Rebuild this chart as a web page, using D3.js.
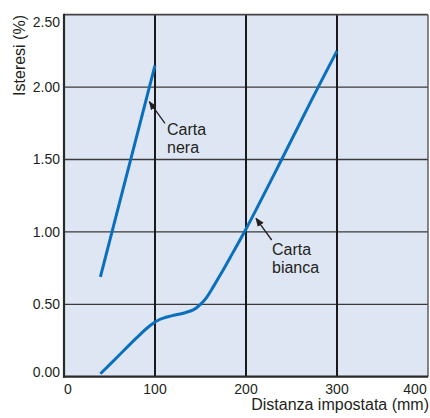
<!DOCTYPE html>
<html><head><meta charset="utf-8">
<script src="https://cdn.jsdelivr.net/npm/d3@7"></script>
<style>body{margin:0;background:#fff}svg{display:block}text{font-family:"Liberation Sans",Arial,sans-serif;fill:#231f20}</style>
</head><body>
<svg id="c" width="430" height="418"></svg>
<script>
const xTicks = [0, 100, 200, 300, 400];
const yTicks = [0, 0.5, 1.0, 1.5, 2.0, 2.5];
const yTickLabels = ["0.00", "0.50", "1.00", "1.50", "2.00", "2.50"];
const nera = [[40, 0.69], [100, 2.15]];
const bianca = [[40, 0.02], [60, 0.145], [80, 0.27], [95, 0.355], [105, 0.395], [118, 0.42], [132, 0.44], [143, 0.465], [150, 0.50], [157, 0.55], [163, 0.61], [172, 0.705], [185, 0.85], [200, 1.02], [240, 1.51], [272, 1.91], [300, 2.25]];
const labels = [
  {lines: ["Carta", "nera"]},
  {lines: ["Carta", "bianca"]}
];
const xTitle = "Distanza impostata (mm)";
const yTitle = "Isteresi (%)";

const L = 64, R = 428, T = 14.7, B = 376.7;
const x = d3.scaleLinear().domain([0, 400]).range([L, R]);
const y = d3.scaleLinear().domain([0, 2.5]).range([B, T]);
const svg = d3.select("#c");

svg.append("defs").append("marker").attr("id", "ah").attr("viewBox", "0 0 10 10")
  .attr("refX", 9).attr("refY", 5).attr("markerWidth", 9).attr("markerHeight", 9)
  .attr("markerUnits", "userSpaceOnUse").attr("orient", "auto")
  .append("path").attr("d", "M0,1 L10,5 L0,9 Z").attr("fill", "#231f20");

svg.append("rect").attr("x", L).attr("y", T).attr("width", R - L).attr("height", B - T).attr("fill", "#dfe6f3");

// horizontal grid
svg.append("g").selectAll("line").data(yTicks.filter(v => v > 0 && v < 2.5)).join("line")
  .attr("x1", L).attr("x2", R).attr("y1", d => y(d)).attr("y2", d => y(d))
  .attr("stroke", "#3a3a3a").attr("stroke-width", 1.3);
// vertical grid
svg.append("g").selectAll("line").data(xTicks.filter(v => v > 0 && v < 400)).join("line")
  .attr("y1", T).attr("y2", B).attr("x1", d => x(d)).attr("x2", d => x(d))
  .attr("stroke", "#1a1a1a").attr("stroke-width", 2);
// frame
svg.append("line").attr("x1", L).attr("x2", R).attr("y1", T).attr("y2", T).attr("stroke", "#444").attr("stroke-width", 1.8);
svg.append("line").attr("x1", R).attr("x2", R).attr("y1", T).attr("y2", B).attr("stroke", "#555").attr("stroke-width", 1.4);
svg.append("line").attr("x1", L).attr("x2", L).attr("y1", T - 1).attr("y2", B + 1).attr("stroke", "#2a2a2a").attr("stroke-width", 2.2);
svg.append("line").attr("x1", L - 1).attr("x2", R).attr("y1", B).attr("y2", B).attr("stroke", "#2a2a2a").attr("stroke-width", 2.2);

// tick labels
svg.append("g").selectAll("text").data(yTicks).join("text")
  .attr("x", L - 4).attr("y", d => Math.min(Math.max(y(d), T + 7), B - 5)).attr("dy", "0.35em")
  .attr("text-anchor", "end").attr("font-size", 14).text((d, i) => yTickLabels[i]);
svg.append("g").selectAll("text").data(xTicks).join("text")
  .attr("x", d => Math.min(Math.max(x(d), L + 4), R - 13)).attr("y", 394)
  .attr("text-anchor", "middle").attr("font-size", 14).text(d => d);

// titles
svg.append("text").attr("x", 429).attr("y", 410).attr("text-anchor", "end").attr("font-size", 16).text(xTitle);
svg.append("text").attr("transform", "translate(24.5,15) rotate(-90)").attr("text-anchor", "end").attr("font-size", 16).text(yTitle);

// lines
const line = d3.line().x(d => x(d[0])).y(d => y(d[1])).curve(d3.curveCatmullRom.alpha(0.5));
[nera, bianca].forEach(s => svg.append("path").datum(s).attr("d", line)
  .attr("fill", "none").attr("stroke", "#0a70bd").attr("stroke-width", 3));

// annotations
const ann = [
  {tx: 167, ty: 135, lx1: 165, ly1: 123.3, lx2: 149.3, ly2: 101.7},
  {tx: 272, ty: 255, lx1: 271.7, ly1: 240, lx2: 256, ly2: 218.3}
];
labels.forEach((lb, i) => {
  const a = ann[i];
  const t = svg.append("text").attr("x", a.tx).attr("y", a.ty).attr("font-size", 16);
  lb.lines.forEach((s, j) => t.append("tspan").attr("x", a.tx).attr("dy", j ? 17.7 : 0).text(s));
  svg.append("line").attr("x1", a.lx1).attr("y1", a.ly1).attr("x2", a.lx2).attr("y2", a.ly2)
    .attr("stroke", "#231f20").attr("stroke-width", 1.3).attr("marker-end", "url(#ah)");
});
</script>
</body></html>
